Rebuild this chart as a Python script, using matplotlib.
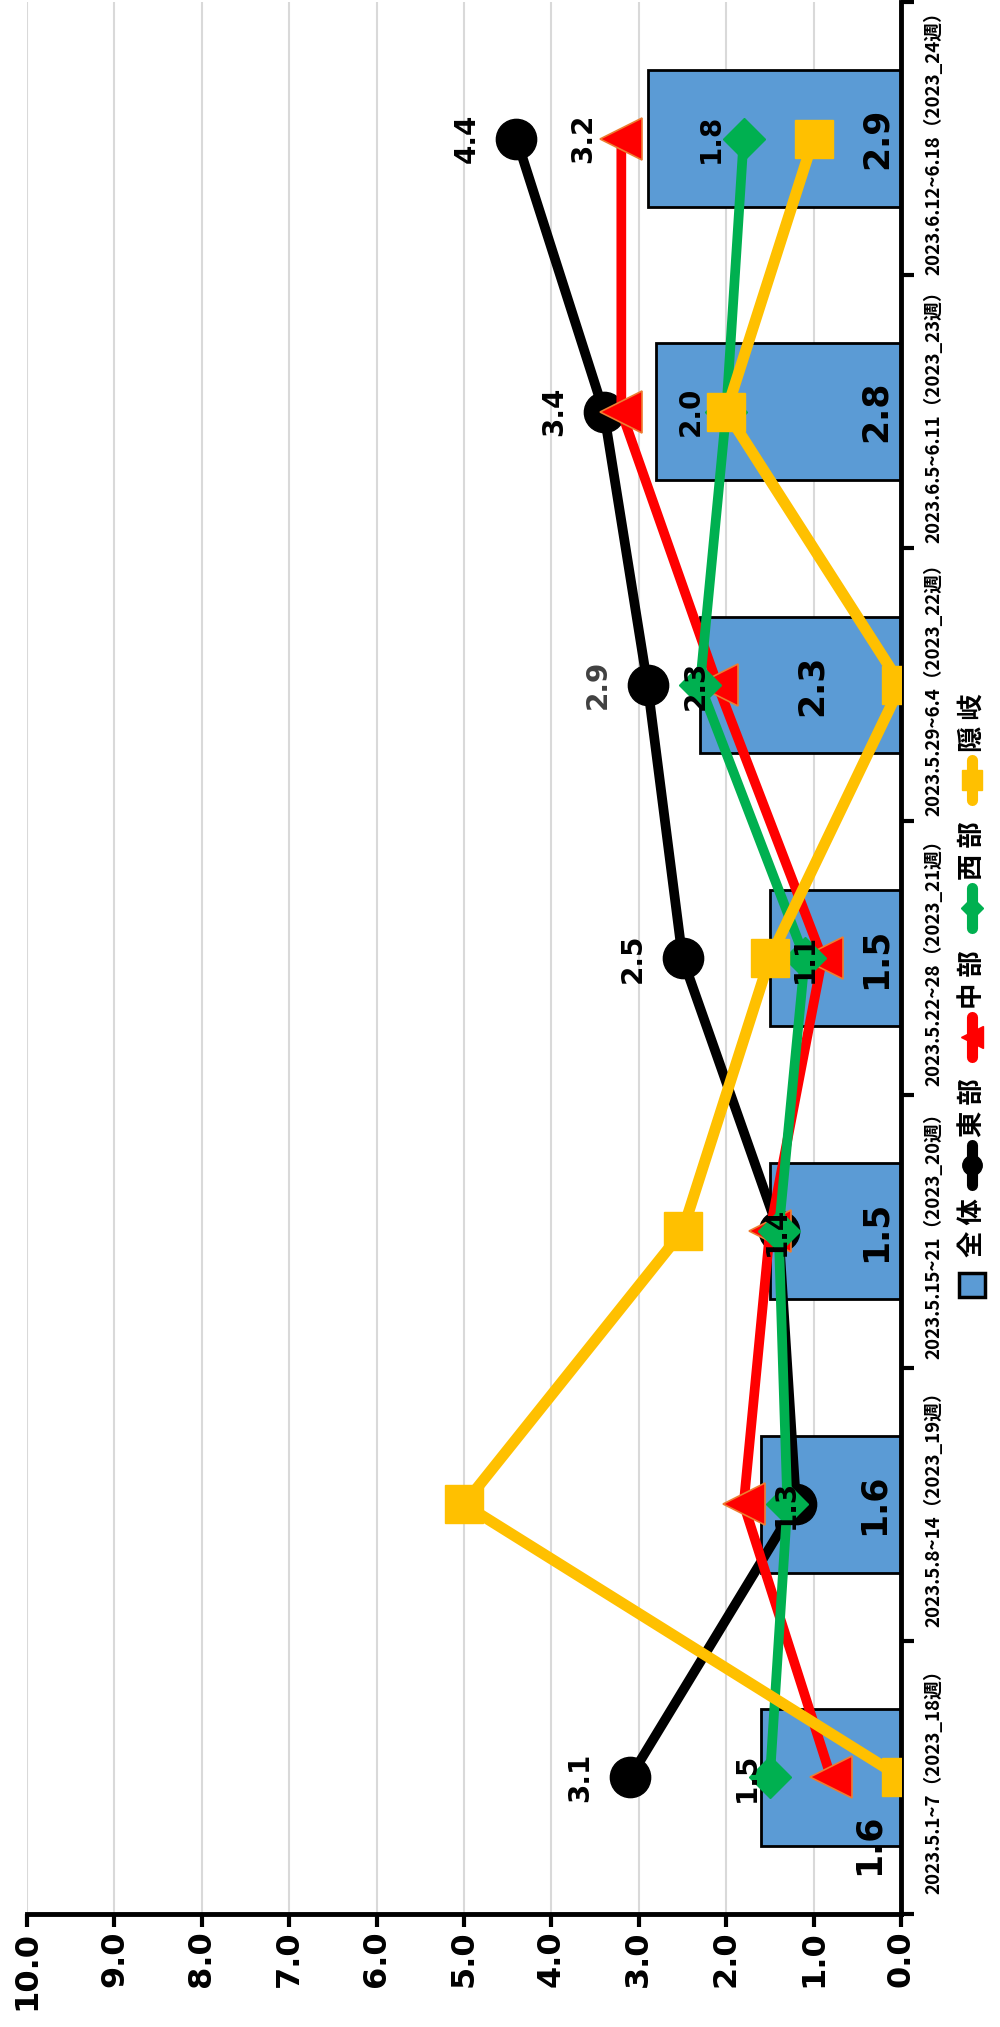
import numpy as np
import matplotlib.pyplot as plt
from matplotlib.lines import Line2D
from matplotlib.patches import Rectangle

# weekly values, oldest week first (drawn bottom -> top, chart is rotated)
weeks = ["2023.5.1~7（2023_18週）", "2023.5.8~14（2023_19週）", "2023.5.15~21（2023_20週）",
         "2023.5.22~28（2023_21週）", "2023.5.29~6.4（2023_22週）", "2023.6.5~6.11（2023_23週）",
         "2023.6.12~6.18（2023_24週）"]
overall = [1.6, 1.6, 1.5, 1.5, 2.3, 2.8, 2.9]   # 全体
east = [3.1, 1.2, 1.4, 2.5, 2.9, 3.4, 4.4]      # 東部
central = [0.8, 1.8, 1.5, 0.9, 2.1, 3.2, 3.2]   # 中部
west = [1.5, 1.3, 1.4, 1.1, 2.3, 2.0, 1.8]      # 西部
oki = [0.0, 5.0, 2.5, 1.5, 0.0, 2.0, 1.0]       # 隠岐
series_names = ["全体", "東部", "中部", "西部", "隠岐"]
value_ticks = np.arange(0, 11, 1)

# which labels are shown on the chart
east_shown = [True, False, False, True, True, True, True]
central_shown = [False, False, False, False, False, False, True]

blue = "#5B9BD5"
black = "#000000"
red = "#FF0000"
green = "#00B050"
orange = "#FFC000"

W, H = 1000, 2027
fig = plt.figure(figsize=(W / 100, H / 100), dpi=100)
ax = fig.add_axes([27 / W, 1 - 1914 / H, 874 / W, 1912 / H])

y = np.arange(len(weeks))

ax.barh(y, overall, height=0.5, color=blue, edgecolor="black", linewidth=2, zorder=2)
ax.plot(east, y, color=black, lw=7, marker="o", ms=29, zorder=3)
ax.plot(central, y, color=red, lw=7, marker="<", ms=30, mfc=red, mec="#ED7D31", mew=1.2, zorder=4)
ax.plot(west, y, color=green, lw=7, marker="D", ms=21, zorder=5)
ax.plot(oki, y, color=orange, lw=8, marker="s", ms=28, zorder=6)

ax.set_xlim(10, 0)
ax.set_ylim(-0.5, len(weeks) - 0.5)

ax.set_xticks(value_ticks)
ax.set_xticklabels(["%.1f" % v for v in value_ticks])
ax.tick_params(axis="x", labelrotation=90, length=9, width=3, direction="out", pad=3,
               labelsize=23)
for lab in ax.get_xticklabels():
    lab.set_fontweight("bold")

ax.yaxis.tick_right()
ax.set_yticks(np.arange(-0.5, len(weeks), 1))
ax.set_yticklabels([])
ax.set_yticks(y, minor=True)
ax.set_yticklabels(weeks, minor=True, rotation=90, va="center", ha="left",
                   fontsize=13.5, fontweight="bold", family=["Noto Sans CJK JP", "DejaVu Sans"])
ax.tick_params(axis="y", which="major", length=9, width=3, direction="out")
ax.tick_params(axis="y", which="minor", length=0, pad=17)

ax.grid(axis="x", color="#d9d9d9", lw=1.5)
ax.set_axisbelow(True)
for s in ["top", "left"]:
    ax.spines[s].set_visible(False)
for s in ["bottom", "right"]:
    ax.spines[s].set_linewidth(3.5)

lab_kw = dict(rotation=90, ha="center", va="center", fontweight="bold",
              textcoords="offset pixels", zorder=10, annotation_clip=False)

# bar labels near the base
bar_dx = [-32, -27, -25, -25, -89, -25, -24]
bar_dy = [-67, 0, 0, 0, 0, 0, 0]
for i, v in enumerate(overall):
    ax.annotate("%.1f" % v, (0, i), xytext=(bar_dx[i], bar_dy[i]), fontsize=25, **lab_kw)

for i, v in enumerate(east):
    if east_shown[i]:
        col = "#404040" if i == 4 else "black"
        ax.annotate("%.1f" % v, (v, i), xytext=(-50, 0), fontsize=20, color=col, **lab_kw)

for i, v in enumerate(central):
    if central_shown[i]:
        ax.annotate("%.1f" % v, (v, i), xytext=(-38, 0), fontsize=20, **lab_kw)

west_dx = [-23, -2, -2, 0, -4, -35, -33]
for i, v in enumerate(west):
    ax.annotate("%.1f" % v, (v, i), xytext=(west_dx[i], 0), fontsize=20, **lab_kw)

# legend, drawn by hand since it is rotated with the chart
leg_x = 972 / W
leg_pos = [1285, 1165, 1037, 908, 780]
handles = [None, (black, "o", 14), (red, "<", 16), (green, "D", 11), (orange, "s", 14)]
for name, yp, h in zip(series_names, leg_pos, handles):
    fy = 1 - yp / H
    if h is None:
        fig.add_artist(Rectangle((leg_x - 13 / W, fy - 12 / H), 26 / W, 24 / H,
                                 facecolor=blue, edgecolor="black", lw=2.5,
                                 transform=fig.transFigure))
    else:
        col, mk, ms = h
        fig.add_artist(Line2D([leg_x, leg_x], [fy - 20 / H, fy + 20 / H], color=col, lw=8,
                              solid_capstyle="round", transform=fig.transFigure))
        fig.add_artist(Line2D([leg_x], [fy], color=col, marker=mk, ms=ms, mfc=col,
                              mec=col, transform=fig.transFigure))
    fig.text(leg_x, 1 - (yp - 57) / H, " ".join(name), rotation=90, ha="center", va="center",
             fontsize=19, fontweight="bold", family=["Noto Sans CJK JP", "DejaVu Sans"])

fig.savefig("out.png", dpi=100)
